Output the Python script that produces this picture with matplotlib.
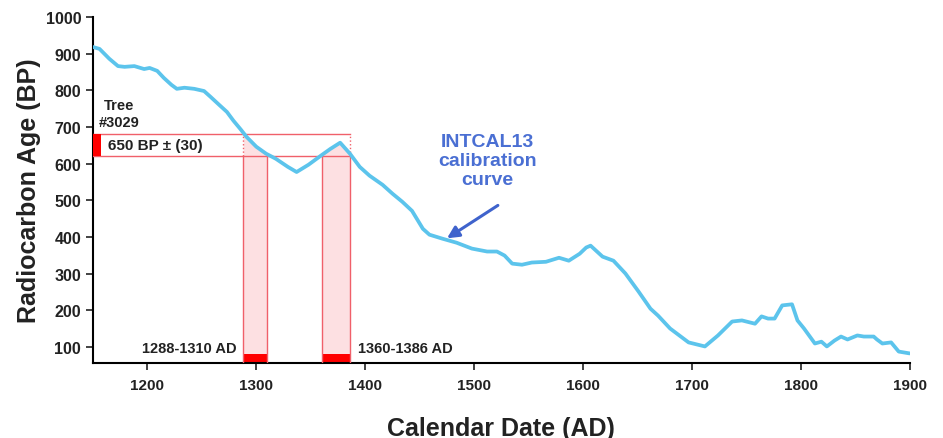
import numpy as np
import matplotlib.pyplot as plt

# ----------------------------
# Data
# ----------------------------
years = [1150, 1156, 1165, 1173, 1179, 1188, 1197, 1202, 1209, 1215, 1222, 1227,
         1234, 1243, 1252, 1258, 1266, 1273, 1279, 1286, 1291, 1300, 1309, 1318,
         1329, 1337, 1348, 1359, 1368, 1377, 1386, 1395, 1404, 1416, 1425, 1434,
         1443, 1453, 1459, 1471, 1484, 1498, 1512, 1521, 1528, 1535, 1544, 1553,
         1566, 1578, 1587, 1597, 1603, 1607, 1618, 1628, 1639, 1651, 1662, 1669,
         1680, 1697, 1712, 1724, 1737, 1746, 1758, 1764, 1770, 1776, 1783, 1792,
         1797, 1803, 1813, 1819, 1824, 1831, 1837, 1843, 1852, 1858, 1867, 1870,
         1875, 1883, 1890, 1896, 1900]
bp_age = [918, 913, 886, 866, 864, 866, 858, 861, 853, 834, 815, 804,
          807, 804, 798, 782, 760, 741, 717, 692, 673, 646, 627, 613,
          591, 577, 597, 621, 640, 657, 627, 591, 567, 542, 518, 496,
          471, 422, 406, 395, 384, 368, 360, 360, 349, 327, 324, 330,
          332, 343, 335, 354, 371, 376, 346, 335, 300, 251, 204, 185,
          150, 112, 101, 131, 169, 172, 163, 183, 177, 177, 213, 216,
          172, 150, 109, 114, 101, 117, 128, 120, 131, 128, 128, 120,
          109, 112, 87, 84, 82]

sample_bp = 650
sample_err = 30
ranges = [(1288, 1310), (1360, 1386)]
range_labels = ["1288-1310 AD", "1360-1386 AD"]
xticks = [1200, 1300, 1400, 1500, 1600, 1700, 1800, 1900]
yticks = [100, 200, 300, 400, 500, 600, 700, 800, 900, 1000]

plt.rcParams['font.family'] = ['Liberation Sans', 'DejaVu Sans']
plt.rcParams['font.weight'] = 'bold'

fig = plt.figure(figsize=(9.43, 4.39), dpi=100)
ax = fig.add_axes([0.0986, 0.171, 0.866, 0.788])

ymin = 56
lo, hi = sample_bp - sample_err, sample_bp + sample_err
red = "#ff0000"
edge = "#f0606a"
pink = "#fde0e2"

# calibration bands
for (a, b) in ranges:
    ax.fill_between([a, b], ymin, lo, color=pink, lw=0, zorder=1)
    ax.fill_between([a, b], ymin, ymin + 25, color=red, lw=0, zorder=2)
    # area under the curve inside the error box
    xx = np.linspace(a, b, 100)
    yy = np.clip(np.interp(xx, years, bp_age), lo, hi)
    ax.fill_between(xx, lo, yy, color=pink, lw=0, zorder=1)
    ax.plot([a, a], [ymin, lo], color=edge, lw=1, zorder=3)
    ax.plot([b, b], [ymin, lo], color=edge, lw=1, zorder=3)

ax.plot([ranges[0][0]] * 2, [lo, hi], color=edge, lw=1, ls=":", zorder=3)
ax.plot([ranges[1][1]] * 2, [lo, hi], color=edge, lw=1, ls=":", zorder=3)

# error box for the sample
ax.plot([1150, ranges[1][1]], [hi, hi], color=edge, lw=1, zorder=3)
ax.plot([1150, ranges[1][1]], [lo, lo], color=edge, lw=1, zorder=3)
ax.fill_between([1150, 1157], lo, hi, color=red, lw=0, zorder=4)

# calibration curve
ax.plot(years, bp_age, color="#5cc4ec", lw=2.7, zorder=5,
        solid_capstyle="round", solid_joinstyle="round")

# text
ax.text(1164, sample_bp, "650 BP \u00b1 (30)", fontsize=11, fontweight="bold",
        color="#222222", va="center", ha="left", zorder=6)
ax.text(1174, 737, "Tree\n#3029", fontsize=10.5, fontweight="bold",
        color="#222222", va="center", ha="center", linespacing=1.3)
ax.text(1282, 98, range_labels[0], fontsize=10.5, fontweight="bold",
        color="#222222", va="center", ha="right")
ax.text(1393, 98, range_labels[1], fontsize=10.5, fontweight="bold",
        color="#222222", va="center", ha="left")
ax.text(1512, 608, "INTCAL13\ncalibration\ncurve", fontsize=14, fontweight="bold",
        color="#4a6fd3", va="center", ha="center", linespacing=1.15)
ax.annotate("", xy=(1473, 392), xytext=(1524, 490),
            arrowprops=dict(arrowstyle="-|>,head_length=0.7,head_width=0.35",
                            color="#3f63cc", lw=2.2))

ax.set_xlim(1150, 1900)
ax.set_ylim(ymin, 1000)
ax.set_xticks(xticks)
ax.set_yticks(yticks)
ax.tick_params(axis="y", labelsize=11.5, colors="#222222", length=5, width=1.2)
ax.tick_params(axis="x", labelsize=11, colors="#222222", length=5, width=1.2, pad=6)
for lab in ax.get_xticklabels() + ax.get_yticklabels():
    lab.set_fontweight("bold")
ax.spines["top"].set_visible(False)
ax.spines["right"].set_visible(False)
ax.spines["left"].set_linewidth(1.5)
ax.spines["bottom"].set_linewidth(1.5)

ax.set_xlabel("Calendar Date (AD)", fontsize=18, fontweight="bold", color="#222222",
              labelpad=17)
ax.set_ylabel("Radiocarbon Age (BP)", fontsize=18, fontweight="bold", color="#222222",
              labelpad=3)

fig.savefig("out.png", dpi=100)
